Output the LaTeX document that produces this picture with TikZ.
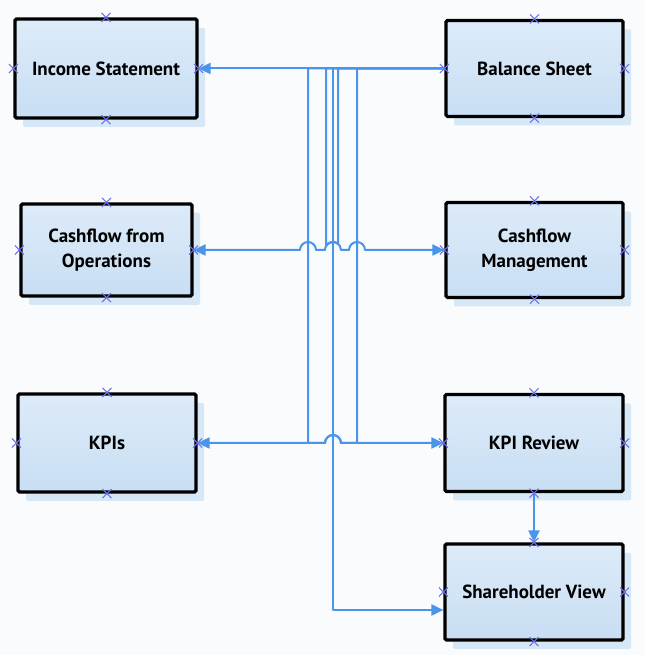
\documentclass[tikz,border=0pt]{standalone}
\usepackage{fontspec}
\setmainfont{PT Sans}
\usetikzlibrary{arrows.meta,shadows}
\definecolor{linec}{HTML}{4A94EA}
\definecolor{xc}{HTML}{6A72EE}
\definecolor{topc}{HTML}{DDEBF9}
\definecolor{botc}{HTML}{C8DEF3}
\definecolor{shc}{HTML}{D6E7F6}
\definecolor{bgc}{HTML}{FAFBFC}
\begin{document}
\begin{tikzpicture}[x=1pt,y=1pt,
  box/.style={draw=black, line width=3.2pt, rounded corners=1.5pt,
    top color=topc, bottom color=botc, inner sep=0pt, align=center,
    font=\bfseries\fontsize{19}{25}\selectfont,
    drop shadow={shadow xshift=8pt, shadow yshift=-9pt, fill=shc, opacity=1}},
  conn/.style={draw=linec, line width=2pt, line join=round},
  arr/.style={conn, -{Triangle[length=12pt,width=11pt]}},
  xmark/.style={draw=xc, line width=1.1pt}]
\fill[bgc] (0,0) rectangle (645,655);
\useasboundingbox (0,0) rectangle (645,655);
% boxes
\node[box, minimum width=182pt, minimum height=99pt] (IS) at (106,586.5) {Income Statement};
\node[box, minimum width=177pt, minimum height=96pt] (BS) at (534.5,586.5) {Balance Sheet};
\node[box, minimum width=171pt, minimum height=92pt] (CFO) at (106.5,405) {Cashflow from\\Operations};
\node[box, minimum width=177pt, minimum height=95pt] (CFM) at (534.5,405) {Cashflow\\Management};
\node[box, minimum width=178pt, minimum height=98pt] (KPI) at (107,212) {KPIs};
\node[box, minimum width=178pt, minimum height=97pt] (KPIR) at (534,212) {KPI Review};
\node[box, minimum width=178pt, minimum height=96pt] (SV) at (534,63) {Shareholder View};
% bend points
\coordinate (l308) at (308,586.5);
\coordinate (l326) at (326,586.5);
\coordinate (l333) at (333,586.5);
\coordinate (l338) at (338,586.5);
\coordinate (l357) at (357,586.5);
\coordinate (svin) at (333,45);
% connectors
\draw[arr] (BS.west) -- (IS.east);
\draw[arr] (BS.west) -- (l338) -- (338,411.245) arc[start angle=51.32, end angle=180, radius=8]
  -- (316,405) arc[start angle=0, end angle=180, radius=8] -- (CFO.east);
\draw[arr] (BS.west) -- (l326) -- (326,408.873) arc[start angle=151.04, end angle=0, radius=8]
  -- (349,405) arc[start angle=180, end angle=0, radius=8] -- (CFM.west);
\draw[arr] (BS.west) -- (l357) -- (357,212) -- (341,212) arc[start angle=0, end angle=180, radius=8] -- (KPI.east);
\draw[arr] (BS.west) -- (l308) -- (308,212) -- (325,212) arc[start angle=180, end angle=0, radius=8] -- (KPIR.west);
\draw[arr] (BS.west) -- (l333) -- (svin) -- (svin -| SV.west);
\draw[arr] (KPIR.south) -- (SV.north);
% connection point marks
\foreach \n in {IS,BS,CFO,CFM,KPI,KPIR,SV}
  \foreach \a in {north,south,east,west}
    \draw[xmark] (\n.\a) +(-4.5,-4.5) -- +(4.5,4.5) +(-4.5,4.5) -- +(4.5,-4.5);
\end{tikzpicture}
\end{document}
